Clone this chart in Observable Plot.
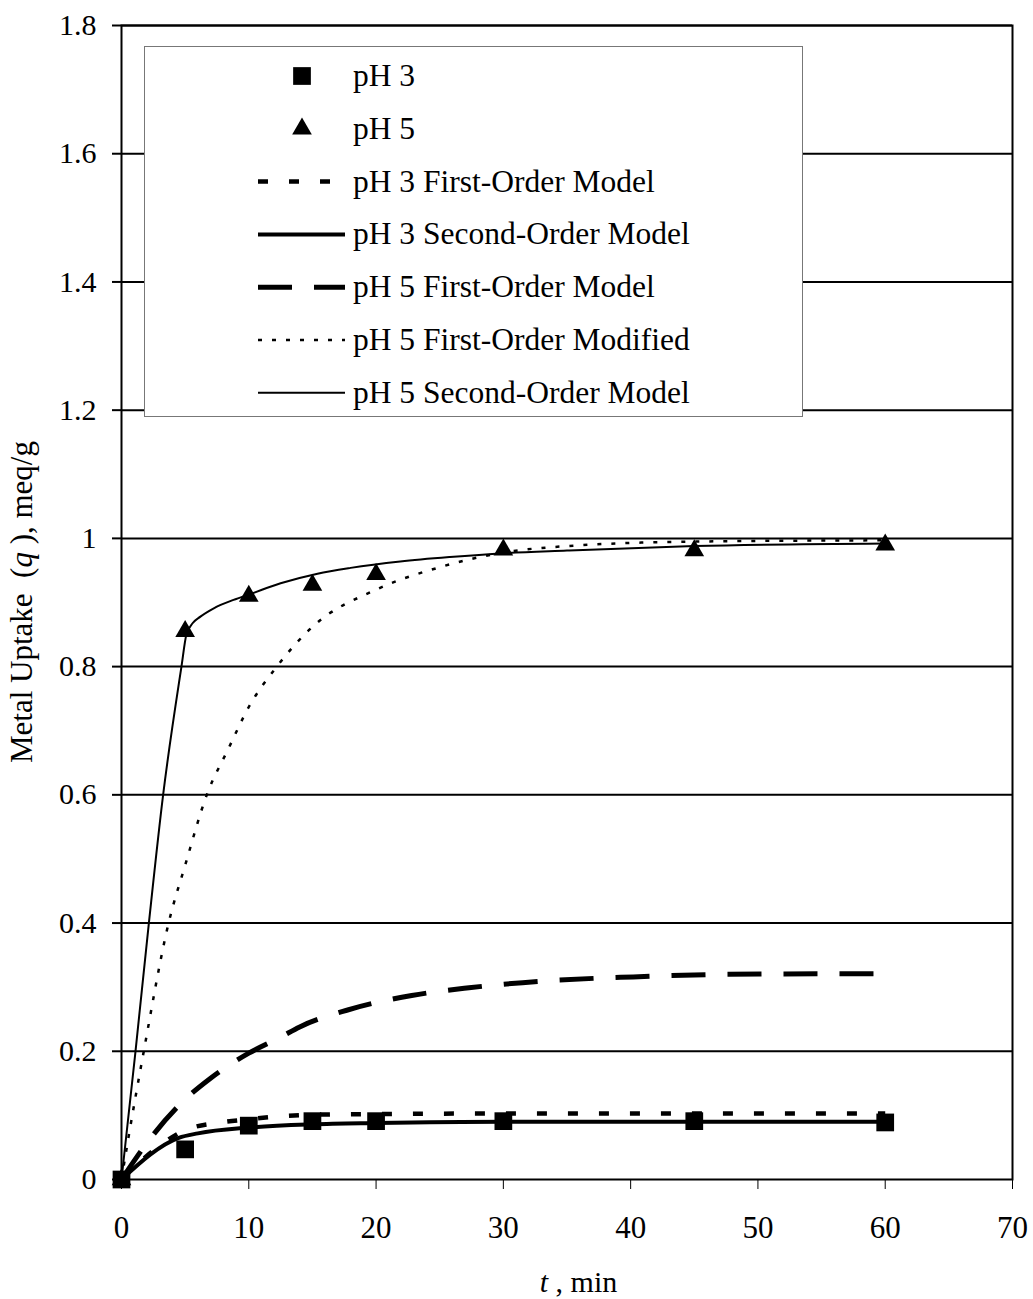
<!DOCTYPE html>
<html>
<head>
<meta charset="utf-8">
<script src="https://cdn.jsdelivr.net/npm/d3@7"></script>
<script src="https://cdn.jsdelivr.net/npm/@observablehq/plot@0.6"></script>
<style>
  html, body { margin: 0; padding: 0; background: #fff; }
  #chart { position: relative; width: 1033px; height: 1299px; }
  #legend { position: absolute; left: 144px; top: 46px; }
</style>
</head>
<body>
<div id="chart"></div>
<script>
// ---------- data ----------
const sampleTimes = [0, 5, 10, 15, 20, 30, 45, 60];
const uptakePH3 = [0, 0.047, 0.084, 0.091, 0.091, 0.091, 0.091, 0.089];
const uptakePH5 = [0, 0.855, 0.91, 0.927, 0.944, 0.982, 0.981, 0.99];

const pH3FirstOrderT = [0, 2.5, 5, 7.8, 10, 12.8, 15, 20, 30, 45, 60];
const pH3FirstOrderQ = [0, 0.045, 0.077, 0.089, 0.094, 0.099, 0.101, 0.102, 0.103, 0.103, 0.103];

const pH3SecondOrderT = [0, 4.5, 6, 10, 15, 20, 30, 45, 60];
const pH3SecondOrderQ = [0, 0.065, 0.072, 0.081, 0.086, 0.088, 0.09, 0.09, 0.09];

const pH5FirstOrderT = [0, 2.5, 5, 7, 10, 12.5, 14, 17.7, 22.8, 27.3, 32.7, 40.2, 47.7, 60];
const pH5FirstOrderQ = [0, 0.07, 0.125, 0.158, 0.197, 0.222, 0.238, 0.264, 0.287, 0.299, 0.309, 0.316, 0.32, 0.321];

const pH5ModifiedT = [0, 0.5, 1.75, 3.7, 5, 6.7, 8.4, 10, 12.2, 15, 20, 25, 30, 35, 45, 60];
const pH5ModifiedQ = [0, 0.06, 0.2, 0.4, 0.49, 0.6, 0.672, 0.737, 0.8, 0.862, 0.92, 0.955, 0.978, 0.988, 0.995, 0.997];

const pH5SecondOrderT = [0, 1.1, 2.15, 3.27, 4.71, 5.1, 5.6, 6.2, 7.25, 8.8, 10.1, 12.5, 15.4, 18, 21.9, 25.8, 30.1, 35, 45, 60];
const pH5SecondOrderQ = [0, 0.2, 0.4, 0.6, 0.8, 0.85, 0.868, 0.878, 0.891, 0.904, 0.913, 0.93, 0.945, 0.954, 0.964, 0.971, 0.977, 0.981, 0.988, 0.992];

const yTicks = [0, 0.2, 0.4, 0.6, 0.8, 1, 1.2, 1.4, 1.6, 1.8];
const yTickLabels = ["0", "0.2", "0.4", "0.6", "0.8", "1", "1.2", "1.4", "1.6", "1.8"];
const xTicks = [0, 10, 20, 30, 40, 50, 60, 70];
const xTickLabels = ["0", "10", "20", "30", "40", "50", "60", "70"];

const legendLabels = [
  "pH 3",
  "pH 5",
  "pH 3 First-Order Model",
  "pH 3 Second-Order Model",
  "pH 5 First-Order Model",
  "pH 5 First-Order Modified",
  "pH 5 Second-Order Model"
];

// ---------- styles ----------
const FONT = "'Liberation Serif', 'Times New Roman', Times, serif";
const lineStyles = {
  "pH 3 First-Order Model":    { strokeWidth: 4.5, dash: "10,21" },
  "pH 3 Second-Order Model":   { strokeWidth: 4,   dash: null },
  "pH 5 First-Order Model":    { strokeWidth: 5,   dash: "34,22" },
  "pH 5 First-Order Modified": { strokeWidth: 2.5, dash: "4,10" },
  "pH 5 Second-Order Model":   { strokeWidth: 2,   dash: null }
};
const markerStyles = {
  "pH 3": { symbol: "square", r: 10 },
  "pH 5": { symbol: "triangle", r: 7.3 }
};

// ---------- tables ----------
const rows = (ts, qs) => ts.map((t, i) => ({ t, q: qs[i] }));
const pointsPH3 = rows(sampleTimes, uptakePH3);
const pointsPH5 = rows(sampleTimes, uptakePH5);
const modelSeries = [
  ["pH 3 First-Order Model", rows(pH3FirstOrderT, pH3FirstOrderQ)],
  ["pH 3 Second-Order Model", rows(pH3SecondOrderT, pH3SecondOrderQ)],
  ["pH 5 First-Order Model", rows(pH5FirstOrderT, pH5FirstOrderQ)],
  ["pH 5 First-Order Modified", rows(pH5ModifiedT, pH5ModifiedQ)],
  ["pH 5 Second-Order Model", rows(pH5SecondOrderT, pH5SecondOrderQ)]
];

const lineMarks = modelSeries.map(([name, data]) => {
  const s = lineStyles[name];
  return Plot.line(data, {
    x: "t", y: "q", curve: "monotone-x",
    stroke: "black", strokeWidth: s.strokeWidth,
    strokeDasharray: s.dash || undefined,
    strokeLinecap: "butt", strokeLinejoin: "round"
  });
});

const plot = Plot.plot({
  width: 1033,
  height: 1299,
  marginLeft: 121,
  marginRight: 21,
  marginTop: 25,
  marginBottom: 120,
  x: { domain: [0, 70] },
  y: { domain: [0, 1.8] },
  style: { fontFamily: FONT, fontSize: "29px", color: "black", background: "white" },
  marks: [
    Plot.ruleY(yTicks.slice(1), { stroke: "black", strokeWidth: 2 }),
    Plot.axisY({
      ticks: yTicks, tickSize: 9, tickPadding: 16, strokeWidth: 2, label: null,
      tickFormat: d => yTickLabels[yTicks.indexOf(d)], fontSize: 30
    }),
    Plot.axisX({
      ticks: xTicks, tickSize: 10, tickPadding: 26, strokeWidth: 1, label: null,
      tickFormat: d => xTickLabels[xTicks.indexOf(d)], fontSize: 31
    }),
    ...lineMarks,
    Plot.dot(pointsPH5, { x: "t", y: "q", symbol: markerStyles["pH 5"].symbol, r: markerStyles["pH 5"].r, fill: "black", stroke: "none" }),
    Plot.dot(pointsPH3, { x: "t", y: "q", symbol: markerStyles["pH 3"].symbol, r: markerStyles["pH 3"].r, fill: "black", stroke: "none" }),
    Plot.frame({ stroke: "black", strokeWidth: 2 })
  ]
});

const chart = document.getElementById("chart");
chart.appendChild(plot);

// ---------- axis titles (mixed italic) ----------
const svg = d3.select(plot);
const xs = plot.scale("x"), ys = plot.scale("y");
const frameCx = (xs.range[0] + xs.range[1]) / 2;
const frameCy = (ys.range[0] + ys.range[1]) / 2;

const yTitle = svg.append("text")
  .attr("transform", `translate(32,${frameCy}) rotate(-90)`)
  .attr("text-anchor", "middle")
  .attr("font-family", FONT).attr("font-size", 31).attr("fill", "black");
yTitle.append("tspan").text("Metal Uptake  (");
yTitle.append("tspan").attr("font-style", "italic").text("q");
yTitle.append("tspan").text(" ), meq/g");

const xTitle = svg.append("text")
  .attr("x", frameCx + 12).attr("y", 1292)
  .attr("text-anchor", "middle")
  .attr("font-family", FONT).attr("font-size", 30).attr("fill", "black");
xTitle.append("tspan").attr("font-style", "italic").text("t");
xTitle.append("tspan").text(" , min");

// ---------- legend ----------
const LW = 659, LH = 371, rowStart = 30, rowStep = 52.8;
const legend = d3.select(chart).append("svg")
  .attr("id", "legend").attr("width", LW).attr("height", LH);
legend.append("rect").attr("x", 0.5).attr("y", 0.5).attr("width", LW - 1).attr("height", LH - 1)
  .attr("fill", "white").attr("stroke", "#777").attr("stroke-width", 1);

legendLabels.forEach((label, i) => {
  const cy = rowStart + i * rowStep;
  const g = legend.append("g");
  if (markerStyles[label]) {
    const m = markerStyles[label];
    const sym = m.symbol === "square" ? d3.symbolSquare : d3.symbolTriangle;
    g.append("path")
      .attr("d", d3.symbol(sym, Math.PI * m.r * m.r)())
      .attr("transform", `translate(158,${cy})`)
      .attr("fill", "black");
  } else {
    const s = lineStyles[label];
    g.append("line")
      .attr("x1", 114).attr("x2", 201).attr("y1", cy).attr("y2", cy)
      .attr("stroke", "black").attr("stroke-width", s.strokeWidth)
      .attr("stroke-dasharray", s.dash || null);
  }
  g.append("text")
    .attr("x", 209).attr("y", cy + 10)
    .attr("font-family", FONT).attr("font-size", 31.5).attr("fill", "black")
    .text(label);
});
</script>
</body>
</html>
